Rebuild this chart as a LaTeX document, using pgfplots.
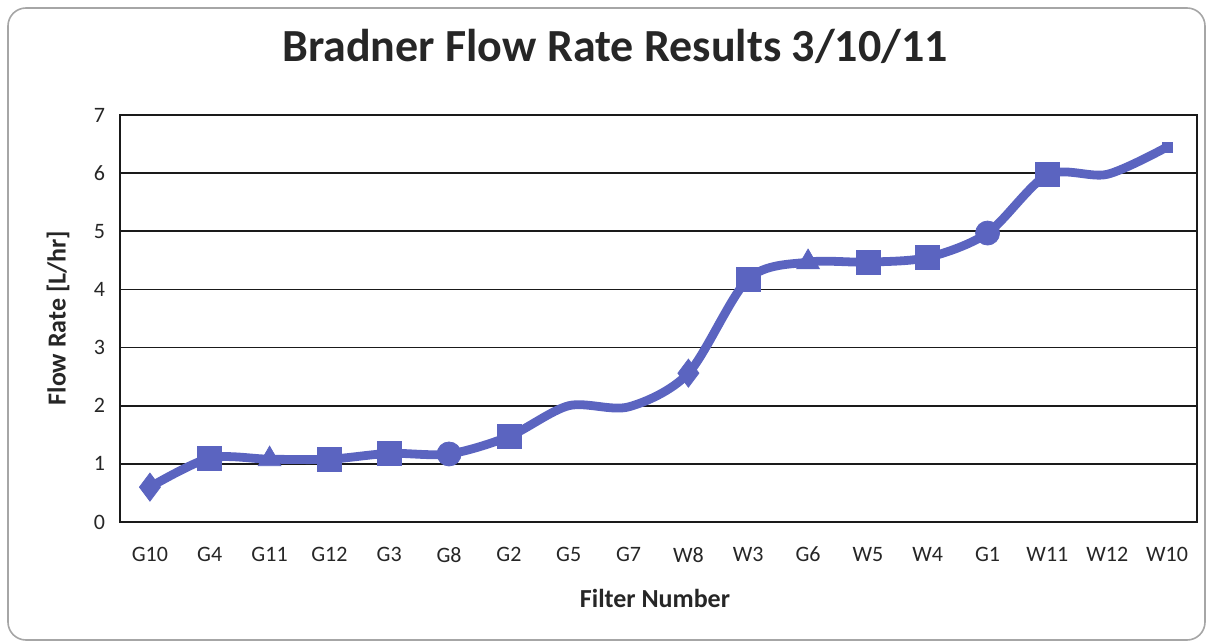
\documentclass[border=0pt]{standalone}
\usepackage{fontspec}
\setmainfont{Carlito}
\usepackage{pgfplots}
\pgfplotsset{compat=1.18}

\definecolor{flowblue}{HTML}{5B64C0}
\definecolor{gridgray}{HTML}{1A1A1A}

\begin{document}
\begin{tikzpicture}[x=1pt,y=1pt]
  \useasboundingbox (-60,-60.5) rectangle (545,261);
  \draw[gray!70, line width=0.8pt, rounded corners=9pt] (-56,-59) rectangle (542.5,257);
  \begin{axis}[
    at={(0,0)}, anchor=south west,
    scale only axis,
    width=538.5pt, height=203.5pt,
    xmin=-0.5, xmax=17.5,
    ymin=0, ymax=7,
    xtick={0,...,17},
    xticklabels={G10,G4,G11,G12,G3,G8,G2,G5,G7,W8,W3,G6,W5,W4,G1,W11,W12,W10},
    ytick={0,1,...,7},
    ymajorgrids,
    major grid style={gridgray, line width=0.9pt},
    axis line style={gridgray, line width=0.7pt},
    major tick length=0pt,
    tick label style={font=\fontsize{11}{13}\selectfont, text=black!85},
    /pgf/number format/assume math mode=true,
    xticklabel style={yshift=-9pt},
    yticklabel style={xshift=-4pt},
    title={\bfseries Bradner Flow Rate Results 3/10/11},
    title style={font=\fontsize{23}{27}\selectfont, text=black!85, at={(247.5pt,232pt)}, anchor=center},
    xlabel={\bfseries Filter Number},
    ylabel={\bfseries Flow Rate [L/hr]},
    label style={font=\fontsize{13}{15}\selectfont, text=black!85},
    xlabel style={at={(267.5pt,-38pt)}, anchor=center},
    ylabel style={at={(-31pt,102pt)}, anchor=center},
    clip=false,
  ]
    % flow rates [L/hr]
    \addplot[flowblue, line width=4.4pt, smooth, tension=0.5, no marks]
      coordinates {(0,0.6) (1,1.1) (2,1.08) (3,1.08) (4,1.18) (5,1.17) (6,1.47)
                   (7,2.0) (8,1.98) (9,2.56) (10,4.18) (11,4.47) (12,4.47) (13,4.55)
                   (14,4.97) (15,5.97) (16,5.98) (17,6.45)};
    \addplot[only marks, mark=diamond*, mark size=7pt, flowblue]
      coordinates {(0,0.6) (9,2.56)};
    \addplot[only marks, mark=square*, mark size=6pt, flowblue]
      coordinates {(1,1.1) (3,1.08) (4,1.18) (6,1.47) (10,4.18) (12,4.47) (13,4.55) (15,5.97)};
    \addplot[only marks, mark=triangle*, mark size=6.5pt, flowblue]
      coordinates {(2,1.08) (11,4.47)};
    \addplot[only marks, mark=*, mark size=6pt, flowblue]
      coordinates {(5,1.17) (14,4.97)};
    \addplot[only marks, mark=square*, mark size=2.5pt, flowblue]
      coordinates {(17,6.45)};
  \end{axis}
\end{tikzpicture}
\end{document}
